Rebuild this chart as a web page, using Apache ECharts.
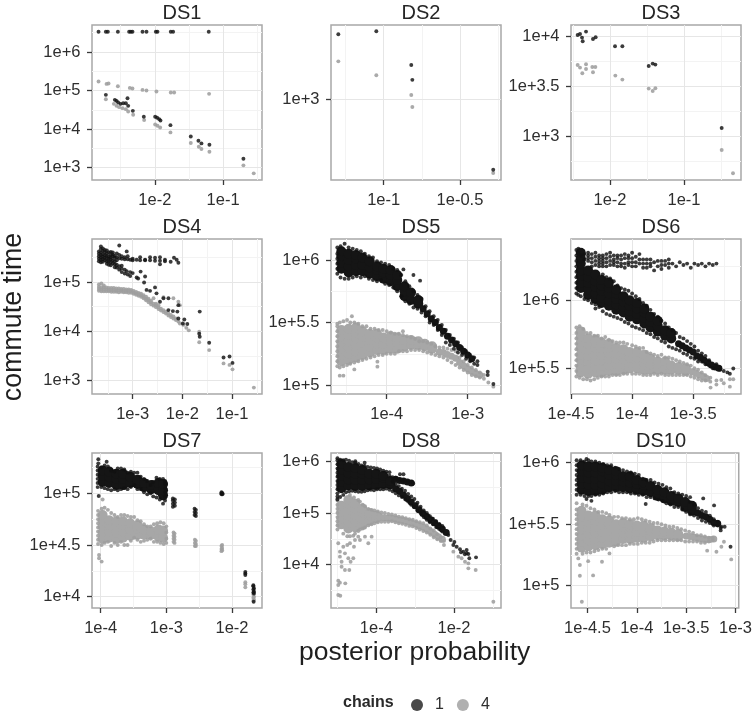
<!DOCTYPE html>
<html><head><meta charset="utf-8">
<style>html,body{margin:0;padding:0;background:#fff}#c{width:755px;height:712px;filter:blur(0.5px)}</style>
<script src="https://cdn.jsdelivr.net/npm/echarts@6/dist/echarts.min.js"></script></head>
<body><div id="c"></div>
<script>
// All values are log10 of the quantity. Rows are [x, y, y, ...].
// "Dense" and "Mid" rows are read points drawn larger: one dot stands for a heap of overlapping observations.
const ds1Black=[[-2.824,6.526],[-2.717,6.526,4.888],[-2.688,6.526],[-2.541,6.526],[-2.376,6.526],[-2.351,6.526],[-2.327,6.526],[-2.18,6.526],[-2.122,6.526],[-1.985,6.526],[-1.961,6.526],[-1.766,6.526],[-1.732,6.526],[-1.21,6.526],[-2.585,4.759],[-2.561,4.733],[-2.537,4.69],[-2.502,4.655],[-2.463,4.672],[-2.424,4.672],[-2.39,4.603],[-2.4,4.802],[-2.322,4.474],[-2.161,4.319],[-1.995,4.319],[-1.966,4.293],[-1.937,4.259],[-1.917,4.224],[-1.771,4.103],[-1.473,3.81],[-1.361,3.698],[-1.317,3.629],[-1.2,3.595],[-0.702,3.233]];
const ds1Grey=[[-2.824,5.233],[-2.707,5.172],[-2.678,5.181],[-2.541,5.112],[-2.366,5.069],[-2.327,5.052],[-2.18,5.017],[-2.122,5.0],[-1.976,4.974],[-1.766,4.948],[-1.717,4.948],[-1.205,4.914],[-2.717,4.776],[-2.6,4.655],[-2.561,4.603],[-2.522,4.569],[-2.473,4.543],[-2.424,4.517],[-2.39,4.457],[-2.317,4.371],[-2.156,4.233],[-1.995,4.121],[-1.961,4.086],[-1.922,4.043],[-1.771,3.914],[-1.473,3.638],[-1.356,3.543],[-1.317,3.483],[-1.2,3.414],[-0.702,3.06],[-0.551,2.853]];
const ds2Black=[[-1.297,3.196],[-1.048,3.205],[-0.819,3.103],[-0.812,3.058],[-0.282,2.786]];
const ds2Grey=[[-1.297,3.114],[-1.048,3.072],[-0.819,3.012],[-0.812,2.976],[-0.282,2.776]];
const ds3Black=[[-2.437,4.013],[-2.405,4.023],[-2.378,3.987],[-2.369,3.95],[-2.324,4.047],[-2.23,3.973],[-2.194,3.99],[-1.932,3.9],[-1.833,3.9],[-1.477,3.703],[-1.423,3.727],[-1.387,3.717],[-0.491,3.083]];
const ds3Grey=[[-2.437,3.713],[-2.405,3.687],[-2.374,3.63],[-2.324,3.72,3.673],[-2.239,3.693],[-2.198,3.693],[-2.23,3.64],[-1.928,3.607],[-1.833,3.567],[-1.477,3.477],[-1.423,3.453],[-1.387,3.48],[-0.491,2.863],[-0.338,2.63]];
const ds4Black=[[-3.68,5.42,5.47,5.52,5.57,5.62],[-3.64,5.40,5.45,5.50,5.55,5.60,5.67,5.72],[-3.60,5.41,5.46,5.51,5.56,5.63,5.68],[-3.56,5.44,5.49,5.54,5.60,5.65],[-3.52,5.37,5.42,5.48,5.53,5.58,5.64],[-3.48,5.35,5.42,5.47,5.52,5.60],[-3.44,5.34,5.40,5.46,5.50,5.55,5.61],[-3.40,5.38,5.44,5.52,5.56,5.60],[-3.36,5.30,5.36,5.42,5.49,5.53],[-3.32,5.29,5.35,5.44,5.50,5.58],[-3.27,5.25,5.32,5.48,5.55,5.74],[-3.22,5.20,5.27,5.33,5.47,5.52],[-3.16,5.17,5.25,5.46,5.50],[-3.12,5.62,5.22],[-3.1,5.46,5.52,5.15],[-3.05,5.45,5.12,5.2],[-3,5.44,5.47,5.18],[-2.92,5.45,5.09],[-2.89,5.07],[-2.85,5.44,5.5],[-2.84,5.21],[-2.77,4.99],[-2.75,5.44,5.45,5.11],[-2.72,4.84],[-2.65,5.44,5.5,4.82],[-2.55,5.43,5.49,4.89],[-2.52,4.77],[-2.45,5.43,5.5,5.36,4.6],[-2.38,4.67],[-2.35,5.42,5.45],[-2.28,4.67,4.43],[-2.235,5.41],[-2.19,4.41],[-2.168,5.49],[-2.114,5.45],[-2.1,4.4],[-2.08,5.39,4.53,4.26],[-1.99,4.16],[-1.96,4.24],[-1.9,4.15],[-1.65,4.4,3.89],[-1.66,3.95],[-1.46,3.77],[-1.17,3.47],[-1.05,3.49],[-0.99,3.36]];
const ds4Grey=[[-3.68,4.82,4.86,4.9,4.95],[-3.63,4.81,4.85,4.89,4.97],[-3.58,4.81,4.85,4.89,4.93],[-3.53,4.81,4.85,4.89],[-3.48,4.81,4.84,4.88],[-3.43,4.80,4.84,4.88],[-3.38,4.80,4.84,4.88],[-3.33,4.80,4.83,4.87],[-3.28,4.79,4.83,4.87],[-3.23,4.80,4.83,4.86],[-3.18,4.79,4.82,4.86],[-3.13,4.79,4.82,4.85],[-3.08,4.78,4.82,4.85],[-3.03,4.78,4.81,4.84],[-2.98,4.76,4.79,4.82],[-2.93,4.74,4.77,4.8],[-2.88,4.72,4.75,4.78],[-2.83,4.70,4.73,4.76],[-2.78,4.67,4.7,4.73],[-2.73,4.63,4.66,4.7],[-2.68,4.59,4.63,4.66],[-2.63,4.55,4.59,4.62],[-2.58,4.52,4.56,4.67],[-2.53,4.49,4.53,4.56],[-2.48,4.45,4.49,4.53],[-2.43,4.42,4.46],[-2.38,4.39,4.43,4.69],[-2.33,4.36,4.4],[-2.28,4.32,4.36],[-2.23,4.29,4.33],[-2.18,4.26,4.3,4.67],[-2.13,4.23,4.26],[-2.08,4.2,4.6],[-2.05,4.53,4.16],[-1.98,4.13],[-1.92,4.07],[-1.87,4.02],[-1.66,3.78,3.99],[-1.46,3.62],[-1.17,3.35],[-1.05,3.32],[-0.99,3.23],[-0.56,2.86]];
const ds5Black=[[-4.61,5.89,5.93,5.97,6.01,6.05,6.10],[-4.57,5.86,6.11],[-4.52,5.85,6.13],[-4.47,5.85,6.10],[-4.42,5.86,6.09],[-4.37,5.87,6.08],[-4.32,5.86,6.07],[-4.27,5.87,6.05],[-4.22,5.85,6.03],[-4.17,5.84,6.02],[-4.12,5.83,5.99],[-4.07,5.84,5.98],[-4.02,5.81,5.97],[-3.97,5.80,5.96],[-3.92,5.78,5.93],[-3.87,5.75,5.92],[-3.82,5.71,5.88],[-3.794,5.925],[-3.77,5.67,5.83],[-3.72,5.65,5.79],[-3.67,5.62,5.75,5.88],[-3.62,5.61,5.72],[-3.588,5.835],[-3.57,5.58,5.69],[-3.52,5.55,5.63],[-3.47,5.50,5.59],[-3.42,5.48,5.55],[-3.37,5.44,5.52],[-3.32,5.40,5.48],[-3.27,5.34,5.44],[-3.22,5.32,5.40],[-3.17,5.29,5.37],[-3.12,5.26,5.34],[-3.07,5.24,5.30],[-3.02,5.21,5.27],[-2.97,5.19,5.24],[-2.92,5.17,5.22],[-2.88,5.16,5.19],[-2.753,5.107,5.08],[-2.683,5.008]];
const ds5BlackDense=[[-4.56,5.93,5.98,6.03,6.07],[-4.47,5.90,5.95,6.00,6.05],[-4.38,5.91,5.96,6.01,6.04],[-4.30,5.91,5.96,6.02],[-4.21,5.89,5.94,5.99],[-4.12,5.87,5.92,5.95],[-4.04,5.85,5.90,5.93],[-3.95,5.83,5.88,5.92],[-3.87,5.79,5.84,5.88],[-3.78,5.71,5.75,5.79],[-3.70,5.68,5.74],[-3.61,5.65,5.68]];
const ds5BlackMid=[[-3.55,5.61],[-3.5,5.57],[-3.45,5.53],[-3.4,5.5],[-3.35,5.46],[-3.3,5.43],[-3.25,5.39],[-3.2,5.36],[-3.15,5.33],[-3.1,5.3],[-3.05,5.27],[-3,5.24],[-2.95,5.21]];
const ds5Grey=[[-4.61,5.15,5.19,5.23,5.27,5.31,5.35,5.39,5.43,5.47,5.49],[-4.58,5.075,5.14,5.5],[-4.535,5.075,5.15,5.51],[-4.49,5.16,5.52],[-4.45,5.17,5.5],[-4.43,5.55],[-4.4,5.125,5.18,5.5],[-4.35,5.19,5.49],[-4.3,5.2,5.47],[-4.25,5.21,5.47],[-4.2,5.22,5.45],[-4.15,5.23,5.45],[-4.115,5.147,5.187],[-4.1,5.24,5.44],[-4.05,5.24,5.44],[-4,5.25,5.43],[-3.95,5.25,5.42],[-3.9,5.25,5.41],[-3.85,5.27,5.41],[-3.8,5.27,5.40,5.43],[-3.75,5.27,5.39],[-3.7,5.28,5.38],[-3.65,5.28,5.37],[-3.6,5.28,5.35],[-3.55,5.27,5.35],[-3.5,5.26,5.34],[-3.45,5.25,5.33],[-3.4,5.24,5.31],[-3.35,5.23,5.3],[-3.3,5.22,5.3],[-3.25,5.2,5.29],[-3.2,5.18,5.28],[-3.15,5.16,5.27],[-3.1,5.14,5.22],[-3.05,5.12,5.19],[-3,5.1,5.16],[-2.95,5.08,5.14],[-2.9,5.07,5.12],[-2.85,5.06,5.1],[-2.8,5.05,5.08],[-2.745,5.02],[-2.683,4.987]];
const ds5GreyDense=[[-4.56,5.19,5.24,5.29,5.34,5.39,5.44],[-4.47,5.20,5.25,5.30,5.35,5.40,5.45],[-4.38,5.22,5.27,5.32,5.37,5.42,5.46],[-4.30,5.24,5.29,5.34,5.39,5.43],[-4.21,5.26,5.31,5.36,5.41],[-4.12,5.28,5.33,5.38,5.41],[-4.04,5.28,5.33,5.38],[-3.95,5.29,5.34,5.39],[-3.87,5.29,5.34,5.38],[-3.78,5.31,5.36],[-3.70,5.32,5.36],[-3.61,5.32,5.35],[-3.53,5.31,5.33],[-3.44,5.29,5.31]];
const ds5GreyMid=[[-3.35,5.265],[-3.3,5.26],[-3.25,5.245],[-3.2,5.23],[-3.15,5.215],[-3.1,5.18],[-3.05,5.155],[-3,5.13],[-2.95,5.11],[-2.9,5.095],[-2.85,5.08]];
const ds6Black=[[-4.456,6.05,6.09,6.13,6.17,6.21,6.25,6.29,6.33,6.37],[-4.44,6.35,6.38,6.04],[-4.42,6.03,6.33],[-4.39,6.01,6.34,6.3],[-4.36,6.0,6.33,6.29,6.31,6.35],[-4.33,5.98,6.34,6.28,6.31,6.25],[-4.3,5.97,6.32,6.26,5.94,6.29,6.35],[-4.27,5.95,6.33,6.29,6.25,6.31,6.27],[-4.24,5.92,6.31,6.27,6.19,6.25,6.29,6.33],[-4.21,5.9,6.34,6.28,6.17,6.31,6.25],[-4.18,5.89,6.32,6.26,6.16,6.29,6.35],[-4.15,5.88,6.3,6.26,6.14,6.33,6.28],[-4.12,5.87,6.33,6.28,6.11,6.25,6.31],[-4.09,5.86,6.3,6.25,6.09,6.27,6.33],[-4.06,5.84,6.34,6.27,6.08,6.31,6.24],[-4.03,5.83,6.31,6.26,6.07,6.28,6.33],[-4,5.81,6.35,6.28,6.05,6.31,6.25],[-3.97,5.8,6.32,6.25,6.03,6.28],[-3.94,5.79,6.34,6.27,6.01,6.3],[-3.91,5.78,6.3,6.24,5.98,6.27],[-3.88,5.76,6.27,5.96,6.3,6.24],[-3.85,5.75,6.3,6.25,5.93,6.27],[-3.82,5.73,6.28,6.22,5.9],[-3.79,5.72,6.25,5.88,6.29],[-3.76,5.7,6.29,6.23,5.85,6.26],[-3.73,5.69,6.26,5.83,6.29],[-3.7,5.66,6.3,6.24,5.8,6.27],[-3.67,5.65,6.27,5.78],[-3.64,5.64,6.25,5.76],[-3.61,5.63,6.28,5.73],[-3.58,5.61,6.26,5.72],[-3.55,5.6,6.27,5.7],[-3.52,5.58,6.24,5.68],[-3.49,5.57,6.27,5.66],[-3.46,5.55,6.26,5.63],[-3.43,5.55,6.27,5.61],[-3.4,5.53,6.25,5.59],[-3.37,5.52,6.27,5.56],[-3.34,5.5,6.26],[-3.31,5.5,6.27,5.53],[-3.28,5.49,5.5],[-3.25,5.48],[-3.22,5.47],[-3.2,5.46],[-3.172,5.498]];
const ds6BlackDense=[[-4.42,6.09,6.13,6.18,6.22,6.27,6.31,6.35],[-4.36,6.04,6.08,6.13,6.17,6.22],[-4.30,6.01,6.05,6.10,6.14,6.19],[-4.25,5.98,6.02,6.07,6.11,6.15],[-4.19,5.96,6.00,6.05,6.09,6.13],[-4.13,5.93,5.97,6.01,6.05,6.08],[-4.07,5.91,5.95,5.99,6.03],[-4.02,5.88,5.92,5.96,6.00],[-3.96,5.86,5.90,5.94,5.98],[-3.90,5.83,5.87,5.91,5.94],[-3.85,5.80,5.84,5.88],[-3.79,5.77,5.81,5.85],[-3.73,5.74,5.78],[-3.68,5.72,5.76]];
const ds6BlackMid=[[-3.62,5.68],[-3.59,5.665],[-3.56,5.65],[-3.53,5.635],[-3.5,5.62],[-3.47,5.59],[-3.44,5.58],[-3.41,5.56],[-3.38,5.54],[-3.35,5.525],[-3.32,5.51],[-3.29,5.5]];
const ds6Grey=[[-4.456,5.44,5.48,5.52,5.56,5.6,5.64,5.68,5.72,5.76,5.8],[-4.43,5.43,5.81],[-4.4,5.42,5.79],[-4.37,5.42,5.76],[-4.34,5.41,5.76],[-4.31,5.42,5.74],[-4.28,5.43,5.74],[-4.25,5.44,5.72],[-4.22,5.44,5.73],[-4.19,5.44,5.71],[-4.16,5.45,5.7],[-4.13,5.45,5.69],[-4.1,5.45,5.69],[-4.07,5.46,5.69],[-4.04,5.46,5.68],[-4,5.46,5.67],[-3.97,5.46,5.66],[-3.94,5.46,5.65],[-3.91,5.45,5.65],[-3.88,5.45,5.62],[-3.85,5.45,5.61],[-3.82,5.46,5.6],[-3.79,5.45,5.59],[-3.76,5.46,5.6],[-3.73,5.45,5.58],[-3.7,5.45,5.58],[-3.67,5.45,5.57],[-3.64,5.45,5.56],[-3.61,5.45,5.55],[-3.58,5.45,5.54],[-3.55,5.45,5.53],[-3.52,5.44,5.52],[-3.49,5.43,5.5],[-3.46,5.42,5.49],[-3.43,5.41,5.47],[-3.4,5.41,5.45],[-3.36,5.402,5.43],[-3.358,5.358],[-3.31,5.38,5.41],[-3.27,5.414],[-3.25,5.39],[-3.2,5.365,5.419],[-3.172,5.419]];
const ds6GreyDense=[[-4.42,5.47,5.51,5.56,5.60,5.65,5.69,5.73,5.77],[-4.36,5.46,5.50,5.55,5.59,5.64,5.68,5.72],[-4.30,5.47,5.51,5.56,5.60,5.65,5.69,5.71],[-4.25,5.47,5.52,5.56,5.60,5.65,5.69],[-4.19,5.48,5.52,5.57,5.61,5.65,5.68],[-4.13,5.48,5.53,5.57,5.61,5.65],[-4.07,5.49,5.53,5.57,5.61,5.64],[-4.02,5.50,5.54,5.58,5.62],[-3.96,5.50,5.54,5.58,5.62],[-3.90,5.49,5.53,5.57,5.60],[-3.85,5.49,5.53,5.57],[-3.79,5.49,5.53,5.55],[-3.73,5.49,5.53,5.55],[-3.68,5.49,5.52],[-3.62,5.49,5.51],[-3.56,5.48,5.50]];
const ds6GreyMid=[[-3.51,5.475],[-3.48,5.465],[-3.45,5.45],[-3.42,5.44],[-3.39,5.425]];
const ds7Black=[[-4.046,5.06,5.1,5.14,5.18,5.22,5.26],[-4.036,5.329,5.29],[-4.03,4.974],[-3.99,5.06,5.25],[-3.94,5.05,5.27],[-3.909,5.306],[-3.89,5.04,5.26],[-3.84,5.03,5.22],[-3.79,5.04,5.21],[-3.74,5.03,5.24],[-3.69,5.04,5.24],[-3.64,5.05,5.23],[-3.59,5.04,5.2],[-3.54,5.06,5.21],[-3.49,5.08,5.2],[-3.44,5.04,5.2],[-3.39,5.04,5.16],[-3.34,5.01,5.14],[-3.29,4.99,5.12],[-3.24,5.0,5.08],[-3.2,4.97,5.11],[-3.15,4.96,5.15],[-3.1,4.94,5.14],[-3.05,4.9,5.14],[-3.02,4.93,4.97,5.01,5.05,5.09,5.12],[-2.9,4.87,4.9,4.93,4.95],[-2.87,4.88,4.91,4.94],[-2.57,4.79,4.82,4.85],[-2.55,4.78,4.81,4.84],[-2.16,4.99,5.0,5.01],[-2.145,4.99,5.0],[-1.797,4.21,4.225,4.24],[-1.675,4.04,4.07,4.1,4.11],[-1.665,4.05,4.08,4.03],[-1.67,3.95]];
const ds7BlackDense=[[-3.97,5.11,5.17,5.22],[-3.87,5.10,5.16,5.21],[-3.76,5.08,5.14,5.19],[-3.66,5.08,5.14,5.19],[-3.55,5.10,5.16],[-3.44,5.09,5.13],[-3.34,5.06,5.10],[-3.23,5.04,5.08],[-3.12,5.03,5.10],[-3.05,4.98,5.03,5.09]];
const ds7Grey=[[-4.04,4.51,4.55,4.59,4.63,4.67,4.71,4.75,4.79,4.83],[-4.025,4.403,4.371],[-3.985,4.339,4.85,4.5],[-3.97,4.94],[-3.94,4.86,4.52],[-3.89,4.84,4.53],[-3.84,4.81,4.49],[-3.79,4.79,4.52],[-3.74,4.77,4.5],[-3.69,4.79,4.53],[-3.64,4.79,4.5],[-3.59,4.78,4.5],[-3.54,4.77,4.54],[-3.49,4.77,4.57],[-3.44,4.74,4.55],[-3.39,4.73,4.53],[-3.34,4.7,4.54],[-3.29,4.68,4.55],[-3.24,4.68,4.56],[-3.19,4.7,4.53],[-3.14,4.71,4.53],[-3.09,4.72,4.52],[-3.04,4.71,4.51],[-3,4.56,4.62,4.68,4.52],[-2.89,4.62,4.59,4.56,4.53],[-2.875,4.61,4.58,4.55,4.52],[-2.565,4.55,4.52,4.49],[-2.55,4.54,4.51,4.49],[-2.16,4.49,4.46,4.44],[-2.15,4.5,4.47,4.45],[-1.797,4.09,4.12,4.14],[-1.675,3.96,3.99,4.02],[-1.665,3.97,4.0]];
const ds7GreyDense=[[-3.97,4.56,4.62,4.68,4.74,4.79],[-3.87,4.57,4.63,4.69,4.74],[-3.76,4.56,4.62,4.68,4.73],[-3.66,4.57,4.63,4.69,4.73],[-3.55,4.59,4.65,4.71],[-3.44,4.6,4.66,4.69],[-3.34,4.6,4.65],[-3.23,4.6,4.63],[-3.12,4.58,4.65],[-3.05,4.57,4.64]];
const ds8Black=[[-5,5.26,5.32,5.38,5.46,5.54,5.62,5.7,5.78,5.86,5.94,6.02,6.06],[-4.93,5.31,6.03],[-4.85,5.35,6.02],[-4.78,5.4,6.03],[-4.7,5.42,6.01],[-4.62,5.43,5.98],[-4.54,5.42,5.97,6.0],[-4.46,5.41,5.95],[-4.38,5.41,5.92],[-4.3,5.42,5.91,5.97],[-4.22,5.44,5.89],[-4.14,5.45,5.88],[-4.06,5.44,5.87],[-3.98,5.46,5.86],[-3.9,5.46,5.84],[-3.82,5.46,5.82],[-3.74,5.47,5.8],[-3.66,5.45,5.72,5.79],[-3.58,5.42,5.61,5.69],[-3.5,5.38,5.56,5.68,5.66],[-3.42,5.34,5.52,5.64],[-3.39,5.75],[-3.34,5.31,5.47,5.63],[-3.3,5.75],[-3.26,5.27,5.43,5.62],[-3.18,5.22,5.37,5.6],[-3.1,5.16,5.32,5.6],[-3.05,5.57],[-3.02,5.12,5.27],[-2.94,5.05,5.2],[-2.86,5,5.12],[-2.78,4.92,5.05],[-2.7,4.87,5],[-2.62,4.82,4.94],[-2.54,4.78,4.89],[-2.46,4.73,4.84],[-2.38,4.69,4.79],[-2.3,4.64,4.75],[-2.146,4.574],[-2.086,4.477],[-2.017,4.381],[-1.931,4.348],[-1.845,4.297],[-1.76,4.252],[-1.674,4.284,4.22],[-1.63,4.206],[-1.605,4.123],[-1.433,4.142],[-1.72,4.2],[-1.99,4.44],[-1.82,4.24]];
const ds8BlackDense=[[-4.90,5.48,5.60,5.72,5.84,5.95],[-4.72,5.53,5.65,5.77,5.89],[-4.54,5.52,5.64,5.76,5.87],[-4.36,5.52,5.64,5.76,5.83],[-4.18,5.53,5.65,5.76],[-4.00,5.54,5.66,5.76],[-3.82,5.56,5.68,5.72],[-3.64,5.55,5.62]];
const ds8BlackMid=[[-3.5,5.47,5.65],[-3.4,5.42,5.63],[-3.3,5.35,5.62],[-3.2,5.28,5.6],[-3.1,5.21,5.58],[-3,5.14],[-2.9,5.06],[-2.8,4.99],[-2.7,4.93],[-2.6,4.87],[-2.5,4.81],[-2.4,4.75],[-2.3,4.69],[-2.2,4.62]];
const ds8Grey=[[-5,4.68,4.76,4.84,4.92,5,5.08,5.16,5.24,5.28],[-4.979,4.413,3.69,3.606,3.413],[-4.936,4.252,4.155,3.652],[-4.927,3.4],[-4.893,4.058,3.961],[-4.85,4.348,4.6],[-4.807,4.219,3.897],[-4.798,3.639],[-4.747,4.381,4.55],[-4.721,4.123],[-4.695,3.897],[-4.678,4.413,4.55,5.35],[-4.661,4.058],[-4.592,4.123,4.56],[-4.575,4.348,5.3],[-4.549,4.477,4.6],[-4.464,4.542,4.65,5.25],[-4.421,4.477,4.68,5.22],[-4.35,4.7,5.16],[-4.292,4.542,4.72,5.13],[-4.206,4.413,4.76,5.08],[-4.12,4.542,4.78,5.06],[-4.05,4.8,5.05],[-3.96,4.82,5.03],[-3.87,4.83,5.01],[-3.78,4.83,5.0],[-3.69,4.83,4.98],[-3.6,4.84,4.97],[-3.51,4.82,4.95],[-3.42,4.8,4.93],[-3.33,4.79,4.92],[-3.24,4.77,4.9],[-3.15,4.75,4.88],[-3.06,4.74,4.87],[-2.97,4.71,4.84],[-2.88,4.68,4.82],[-2.79,4.65,4.8],[-2.7,4.62,4.76],[-2.61,4.58,4.7],[-2.52,4.53,4.66],[-2.43,4.49,4.59],[-2.34,4.46,4.53],[-2.258,4.381,4.46],[-2.017,4.252],[-1.888,4.155],[-1.803,4.123],[-1.717,4.058],[-1.63,4.026,3.929],[-1.442,3.897],[-0.987,3.284]];
const ds8GreyDense=[[-4.90,4.78,4.90,5.02,5.14],[-4.72,4.70,4.82,4.94,5.06,5.18,5.25],[-4.54,4.72,4.84,4.96,5.08,5.18],[-4.36,4.77,4.89,5.01,5.08],[-4.18,4.85,4.95,5.0],[-4.00,4.9,4.95]];
const ds8GreyMid=[[-3.9,4.92],[-3.8,4.91],[-3.7,4.905],[-3.6,4.9],[-3.5,4.885],[-3.4,4.865],[-3.3,4.855],[-3.2,4.835],[-3.1,4.815],[-3,4.79],[-2.9,4.76],[-2.8,4.73],[-2.7,4.69],[-2.6,4.64],[-2.5,4.59],[-2.4,4.54],[-2.3,4.49]];
const ds10Black=[[-4.61,5.74,5.78,5.82,5.86,5.9,5.94,5.98,6.02],[-4.57,5.74,6.02],[-4.53,5.73,6.01],[-4.51,6.03,5.705],[-4.49,5.73,6.02],[-4.46,5.69,5.73,6.01],[-4.42,5.74,6.01],[-4.38,5.74,6.0],[-4.34,5.75,5.99],[-4.3,5.76,5.98],[-4.26,5.76,5.98],[-4.22,5.77,5.96],[-4.18,5.76,5.95],[-4.14,5.76,5.94],[-4.1,5.76,5.93],[-4.06,5.75,5.92],[-4.02,5.75,5.91],[-3.98,5.74,5.9],[-3.94,5.74,5.87],[-3.91,5.664],[-3.9,5.72,5.86],[-3.86,5.72,5.86],[-3.82,5.71,5.84],[-3.78,5.7,5.83],[-3.74,5.69,5.82],[-3.7,5.67,5.8],[-3.66,5.66,5.79],[-3.62,5.64,5.76],[-3.58,5.64,5.75],[-3.54,5.62,5.74],[-3.5,5.6,5.73],[-3.46,5.58,5.68,5.72],[-3.42,5.57,5.66],[-3.38,5.55,5.63],[-3.34,5.53,5.61],[-3.327,5.71],[-3.3,5.52,5.6],[-3.26,5.51,5.57],[-3.217,5.653],[-3.22,5.49,5.54],[-3.18,5.49,5.52],[-3.15,5.45,5.47],[-3.143,5.48],[-3.11,5.48],[-3.05,5.317]];
const ds10BlackDense=[[-4.56,5.78,5.83,5.88,5.93,5.98],[-4.49,5.77,5.82,5.87,5.92,5.97],[-4.42,5.77,5.82,5.87,5.92,5.97],[-4.35,5.78,5.83,5.88,5.93,5.96],[-4.28,5.80,5.85,5.90,5.94],[-4.21,5.80,5.85,5.90,5.93],[-4.14,5.80,5.85,5.89],[-4.07,5.79,5.84,5.89],[-4.00,5.78,5.83,5.86],[-3.93,5.77,5.82,5.84],[-3.86,5.76,5.81],[-3.79,5.73,5.78],[-3.72,5.71,5.76],[-3.65,5.69,5.73],[-3.58,5.68,5.71],[-3.51,5.64,5.68],[-3.44,5.61,5.65]];
const ds10BlackMid=[[-3.38,5.59],[-3.34,5.57],[-3.3,5.56],[-3.26,5.54],[-3.22,5.515],[-3.18,5.505]];
const ds10Grey=[[-4.61,5.26,5.3,5.34,5.38,5.42,5.46,5.5,5.54,5.58,5.62,5.67],[-4.593,5.222],[-4.577,5.168,5.081],[-4.557,4.87],[-4.55,5.26,5.66],[-4.51,5.27,5.65],[-4.493,5.2],[-4.47,5.27,5.63],[-4.443,5.084],[-4.43,5.28,5.62],[-4.39,5.29,5.6],[-4.353,5.195],[-4.35,5.3,5.6],[-4.31,5.3,5.59],[-4.277,5.263,5.575],[-4.23,5.32,5.56],[-4.19,5.33,5.56],[-4.15,5.33,5.55],[-4.11,5.33,5.55],[-4.07,5.34,5.54],[-4.03,5.34,5.54],[-3.99,5.34,5.55],[-3.95,5.35,5.54],[-3.91,5.35,5.53],[-3.87,5.35,5.52],[-3.83,5.36,5.51],[-3.79,5.37,5.51],[-3.75,5.37,5.5],[-3.71,5.37,5.49],[-3.67,5.37,5.48],[-3.63,5.37,5.48],[-3.59,5.37,5.47],[-3.55,5.37,5.46],[-3.51,5.36,5.45],[-3.47,5.36,5.44],[-3.43,5.36,5.43],[-3.39,5.36,5.41],[-3.35,5.35,5.41],[-3.31,5.35,5.4],[-3.287,5.285],[-3.27,5.36,5.39],[-3.23,5.37,5.39],[-3.193,5.276],[-3.143,5.317],[-3.117,5.358],[-3.043,5.214]];
const ds10GreyDense=[[-4.56,5.31,5.36,5.41,5.46,5.51,5.56,5.61],[-4.49,5.32,5.37,5.42,5.47,5.52,5.57],[-4.42,5.33,5.38,5.43,5.48,5.53,5.57],[-4.35,5.34,5.39,5.44,5.49,5.54],[-4.28,5.35,5.40,5.45,5.50,5.53],[-4.21,5.36,5.41,5.46,5.50],[-4.14,5.38,5.43,5.48,5.51],[-4.07,5.38,5.43,5.48,5.50],[-4.00,5.39,5.44,5.49],[-3.93,5.39,5.44,5.49],[-3.86,5.40,5.45,5.47],[-3.79,5.41,5.45],[-3.72,5.41,5.44],[-3.65,5.41,5.43],[-3.58,5.40,5.42]];
const ds10GreyMid=[[-3.5,5.405],[-3.46,5.4],[-3.42,5.395],[-3.38,5.385],[-3.34,5.38],[-3.3,5.375],[-3.26,5.375],[-3.22,5.38]];

const panelNames=['DS1','DS2','DS3','DS4','DS5','DS6','DS7','DS8','DS10'];
const xRanges=[[-2.92,-0.43],[-1.345,-0.231],[-2.527,-0.23],[-3.819,-0.396],[-4.688,-2.589],[-4.5,-3.109],[-4.132,-1.543],[-5.166,-0.79],[-4.667,-2.967]];
const yRanges=[[2.68,6.70],[2.755,3.224],[2.563,4.113],[2.73,5.871],[4.928,6.168],[5.311,6.451],[3.89,5.39],[3.162,6.16],[4.819,6.079]];
const xTicks=[[-2,-1],[-1,-0.5],[-2,-1],[-3,-2,-1],[-4,-3],[-4.5,-4,-3.5],[-4,-3,-2],[-4,-2],[-4.5,-4,-3.5,-3]];
const yTicks=[[3,4,5,6],[3],[3,3.5,4],[3,4,5],[5,5.5,6],[5.5,6],[4,4.5,5],[4,5,6],[5,5.5,6]];
const xMinor=[[-2.5,-1.5,-0.5],[-1.25,-0.75,-0.25],[-2.5,-1.5,-0.5],[-3.5,-2.5,-1.5,-0.5],[-4.5,-3.5],[-4.25,-3.75,-3.25],[-3.5,-2.5],[-5,-3,-1],[-4.25,-3.75,-3.25]];
const yMinor=[[3.5,4.5,5.5,6.5],[],[2.75,3.25,3.75],[3.5,4.5,5.5],[5.25,5.75],[5.75,6.25],[4.25,4.75,5.25],[3.5,4.5,5.5],[5.25,5.75]];
const blackRows=[ds1Black,ds2Black,ds3Black,ds4Black,ds5Black,ds6Black,ds7Black,ds8Black,ds10Black];
const greyRows=[ds1Grey,ds2Grey,ds3Grey,ds4Grey,ds5Grey,ds6Grey,ds7Grey,ds8Grey,ds10Grey];
const blackDense=[[],[],[],[],ds5BlackDense,ds6BlackDense,ds7BlackDense,ds8BlackDense,ds10BlackDense];
const greyDense=[[],[],[],[],ds5GreyDense,ds6GreyDense,ds7GreyDense,ds8GreyDense,ds10GreyDense];
const blackMid=[[],[],[],[],ds5BlackMid,ds6BlackMid,[],ds8BlackMid,ds10BlackMid];
const greyMid=[[],[],[],[],ds5GreyMid,ds6GreyMid,[],ds8GreyMid,ds10GreyMid];
const chainNames=['1','4'];

const colLeft=[92,331,571], rowTop=[25,239,453], PW=170, PH=155;
const FONT='"Liberation Sans",Arial,sans-serif';
const flat=r=>r.flatMap(a=>a.slice(1).map(y=>[a[0],y]));
const fmt=v=>'1e'+(v<0?'-':'+')+Math.abs(v);

const grid=[],xAxis=[],yAxis=[],series=[],title=[];
panelNames.forEach((name,i)=>{
  const left=colLeft[i%3], top=rowTop[Math.floor(i/3)];
  grid.push({left,top,width:PW,height:PH,show:true,backgroundColor:'#fff',borderColor:'#a8a8a8',borderWidth:1.5,containLabel:false});
  title.push({text:name,left:left+PW/2,top:top-27,textAlign:'center',textStyle:{fontFamily:FONT,fontSize:20,fontWeight:'normal',color:'#262626'}});
  const axis=(r,ticks,m)=>({type:'value',gridIndex:i,min:r[0],max:r[1],
    axisLine:{show:false},splitLine:{show:false},
    axisTick:{show:true,customValues:ticks,length:5,lineStyle:{color:'#3a3a3a',width:1.3}},
    axisLabel:{show:true,customValues:ticks,formatter:fmt,margin:m,hideOverlap:false,showMinLabel:true,showMaxLabel:true,
      fontFamily:FONT,fontSize:16.5,color:'#2e2e2e'}});
  xAxis.push(axis(xRanges[i],xTicks[i],12));
  yAxis.push(axis(yRanges[i],yTicks[i],11.5));
  const maj={color:'#e6e6e6',width:1,type:'solid'}, min={color:'#f3f3f3',width:1,type:'solid'};
  const lines=[...xMinor[i].map(v=>({xAxis:v,lineStyle:min})),...yMinor[i].map(v=>({yAxis:v,lineStyle:min})),
               ...xTicks[i].map(v=>({xAxis:v,lineStyle:maj})),...yTicks[i].map(v=>({yAxis:v,lineStyle:maj}))];
  const base={type:'scatter',xAxisIndex:i,yAxisIndex:i,symbol:'circle',silent:true,animation:false,large:false};
  series.push({...base,name:'gridlines',data:[],z:1,markLine:{silent:true,symbol:'none',animation:false,label:{show:false},data:lines,z:1}});
  series.push({...base,name:chainNames[1],data:flat(greyDense[i]),symbolSize:10,itemStyle:{color:'#a7a7a7',opacity:1},z:2});
  series.push({...base,name:chainNames[1],data:flat(greyMid[i]),symbolSize:7,itemStyle:{color:'#a7a7a7',opacity:1},z:2});
  series.push({...base,name:chainNames[1],data:flat(greyRows[i]),symbolSize:3.9,itemStyle:{color:'#9e9e9e',opacity:.88},z:3});
  series.push({...base,name:chainNames[0],data:flat(blackDense[i]),symbolSize:10,itemStyle:{color:'#151515',opacity:1},z:4});
  series.push({...base,name:chainNames[0],data:flat(blackMid[i]),symbolSize:7,itemStyle:{color:'#151515',opacity:1},z:4});
  series.push({...base,name:chainNames[0],data:flat(blackRows[i]),symbolSize:3.9,itemStyle:{color:'#111',opacity:.82},z:5});
});

const chart=echarts.init(document.getElementById('c'),null,{renderer:'canvas',width:755,height:712});
chart.setOption({animation:false,backgroundColor:'#fff',grid,xAxis,yAxis,series,title,
  legend:{left:411,top:697,padding:0,orient:'horizontal',icon:'circle',itemWidth:12,itemHeight:12,itemGap:13,selectedMode:false,
    formatter:n=>n,textStyle:{fontFamily:FONT,fontSize:16,color:'#2e2e2e',padding:[0,0,0,7]},
    data:[{name:chainNames[0],itemStyle:{color:'#4a4a4a',opacity:1}},{name:chainNames[1],itemStyle:{color:'#b0b0b0',opacity:1}}]},
  graphic:[
    {type:'text',left:299,top:639,style:{text:'posterior probability',fontFamily:FONT,fontSize:26.5,fill:'#1f1f1f'}},
    {type:'text',x:14,y:317,rotation:Math.PI/2,style:{text:'commute time',fontFamily:FONT,fontSize:26.8,fill:'#1f1f1f',align:'center',verticalAlign:'middle'}},
    {type:'text',left:343,top:695,style:{text:'chains',fontFamily:FONT,fontSize:16,fontWeight:'bold',fill:'#2a2a2a'}}
  ]});
</script></body></html>
